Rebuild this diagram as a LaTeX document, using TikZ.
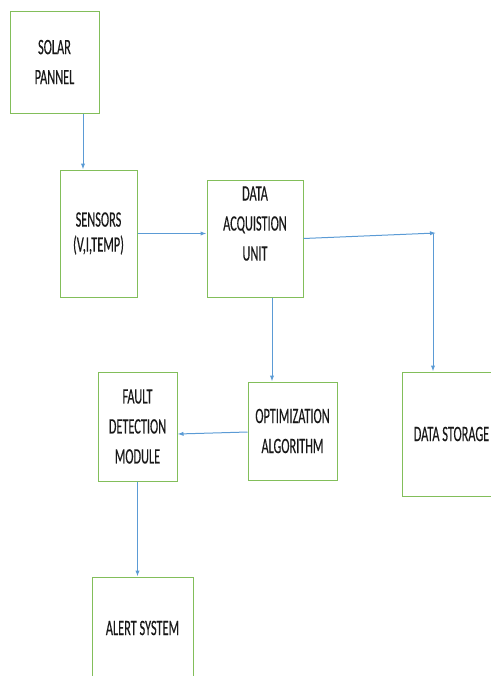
\documentclass[tikz,border=0pt]{standalone}
\usepackage{fontspec}
\setmainfont{Carlito}[FakeStretch=0.56,FakeBold=0.3]
\usepackage{tikz}
\usetikzlibrary{arrows.meta,calc}
\definecolor{boxgreen}{RGB}{130,190,90}
\definecolor{arrblue}{RGB}{91,155,213}
\tikzset{every picture/.style={line width=0.75pt}}
\tikzset{
  blockbox/.style={draw=boxgreen,inner sep=0pt,align=center,font=\fontsize{16.5pt}{22.5pt}\selectfont,text=black!90},
  flow/.style={draw=arrblue,-{Latex[length=4.5pt,width=3.2pt]}},
}

\begin{document}
\begin{tikzpicture}[x=0.75pt,y=0.75pt,yscale=-1,xscale=1]
\useasboundingbox (0,0) rectangle (491,676);
\clip (0,0) rectangle (491,676);
% blocks
\node [blockbox,minimum width=66.75pt,minimum height=76.5pt] (solar) at (54.5,62) {SOLAR\\PANNEL};
\node [blockbox,minimum width=57.75pt,minimum height=95.25pt,font=\fontsize{16.5pt}{18.75pt}\selectfont] (sensors) at (98.5,233.5) {SENSORS\\(V,I,TEMP)};
\node [blockbox,minimum width=72pt,minimum height=87.75pt] (daq) at (255,238.5) {DATA\\ACQUISTION\\UNIT\\~};
\node [blockbox,minimum width=66.75pt,minimum height=73.5pt] (optim) at (292.5,431) {OPTIMIZATION\\ALGORITHM};
\node [blockbox,minimum width=59.25pt,minimum height=81.75pt] (fault) at (137.5,426.5) {FAULT\\DETECTION\\MODULE};
\node [blockbox,minimum width=74.25pt,minimum height=93pt] (storage) at (451.5,434) {DATA STORAGE};
\node [blockbox,minimum width=75.75pt,minimum height=76.5pt] (alert) at (142.5,628) {ALERT SYSTEM};
\coordinate (split) at (436,233);
\coordinate (drop) at (433,234);
% arrows
\draw [flow] ($(solar.south)+(28.5,0)$) -- ($(sensors.north)+(-15.5,0)$);
\draw [flow] (sensors.east) -- (sensors.east -| daq.west);
\draw [flow] (daq.east) -- (split);
\draw [flow] (drop) -- (drop |- storage.north);
\draw [flow] ($(daq.south)+(17,0)$) -- ($(optim.north)+(-20.5,0)$);
\draw [flow] ($(optim.west)+(0,1)$) -- ($(fault.east)+(0,7.5)$);
\draw [flow] (fault.south) -- (fault.south |- alert.north);
\end{tikzpicture}
\end{document}
